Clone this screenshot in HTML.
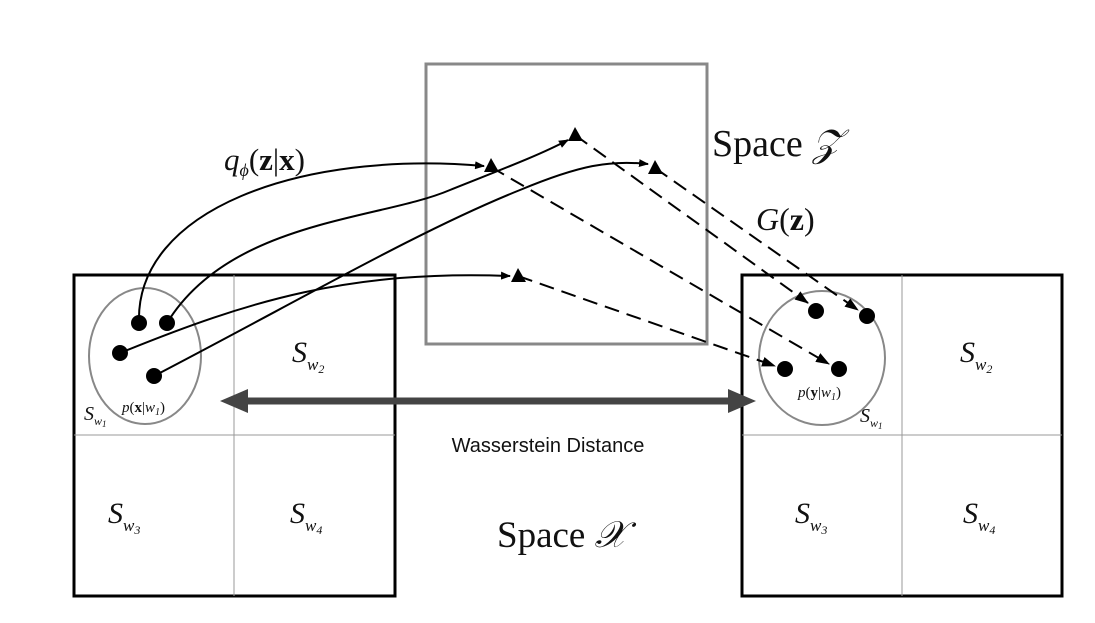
<!DOCTYPE html>
<html><head><meta charset="utf-8"><style>
html,body{margin:0;padding:0;background:#fff;}
svg{display:block;}
.m{font-family:"Liberation Serif",serif;font-style:italic;fill:#111;}
.r{font-family:"Liberation Serif",serif;fill:#111;}
</style></head><body>
<svg width="1095" height="623" viewBox="0 0 1095 623" xmlns="http://www.w3.org/2000/svg">
<defs>
<marker id="ah" markerWidth="10" markerHeight="8" refX="9" refY="4" orient="auto" markerUnits="userSpaceOnUse"><path d="M0,0 L10,4 L0,8 z" fill="#000"/></marker>
<marker id="ah2" markerWidth="14" markerHeight="10" refX="13" refY="5" orient="auto" markerUnits="userSpaceOnUse"><path d="M0,0 L14,5 L0,10 z" fill="#000"/></marker>
</defs>
<!-- Z box -->
<rect x="426" y="64" width="281" height="280" fill="none" stroke="#888" stroke-width="3"/>
<!-- left box -->
<rect x="74" y="275" width="321" height="321" fill="none" stroke="#000" stroke-width="3"/>
<line x1="234" y1="275" x2="234" y2="596" stroke="#999" stroke-width="1"/>
<line x1="74" y1="435" x2="395" y2="435" stroke="#999" stroke-width="1"/>
<!-- right box -->
<rect x="742" y="275" width="320" height="321" fill="none" stroke="#000" stroke-width="3"/>
<line x1="902" y1="275" x2="902" y2="596" stroke="#999" stroke-width="1"/>
<line x1="742" y1="435" x2="1062" y2="435" stroke="#999" stroke-width="1"/>
<!-- circles -->
<ellipse cx="145" cy="356" rx="56" ry="68" fill="none" stroke="#888" stroke-width="2"/>
<ellipse cx="822" cy="358" rx="63" ry="67" fill="none" stroke="#888" stroke-width="2"/>
<!-- solid curves -->
<g fill="none" stroke="#000" stroke-width="2">
<path d="M139,323 C135,210 300,150 484,166" marker-end="url(#ah)"/>
<path d="M167,323 C230,220 380,220 450,190 C500,170 540,155 568,140" marker-end="url(#ah)"/>
<path d="M120,353 C250,300 350,270 510,276" marker-end="url(#ah)"/>
<path d="M154,376 C300,300 420,230 520,190 C580,165 610,160 648,164" marker-end="url(#ah)"/>
</g>
<!-- dashed -->
<g fill="none" stroke="#000" stroke-width="2" stroke-dasharray="15,8">
<line x1="491" y1="167" x2="829" y2="364" marker-end="url(#ah2)"/>
<line x1="575" y1="135" x2="808" y2="303" marker-end="url(#ah2)"/>
<line x1="655" y1="168" x2="858" y2="310" marker-end="url(#ah2)"/>
<line x1="518" y1="276" x2="775" y2="366" marker-end="url(#ah2)"/>
</g>
<!-- triangles -->
<g fill="#000">
<polygon points="491,158 484,172 499,172"/>
<polygon points="575,127 568,141 583,141"/>
<polygon points="655,160 648,174 663,174"/>
<polygon points="518,268 511,282 526,282"/>
</g>
<!-- dots -->
<g fill="#000">
<circle cx="139" cy="323" r="8"/><circle cx="167" cy="323" r="8"/>
<circle cx="120" cy="353" r="8"/><circle cx="154" cy="376" r="8"/>
<circle cx="816" cy="311" r="8"/><circle cx="867" cy="316" r="8"/>
<circle cx="785" cy="369" r="8"/><circle cx="839" cy="369" r="8"/>
</g>
<!-- double arrow -->
<line x1="240" y1="401" x2="735" y2="401" stroke="#444" stroke-width="7"/>
<polygon points="220,401 248,389 248,413" fill="#444"/>
<polygon points="756,401 728,389 728,413" fill="#444"/>
<!-- labels -->
<text x="548" y="452" text-anchor="middle" font-family="Liberation Sans, sans-serif" font-size="20" fill="#111">Wasserstein Distance</text>
<text x="497" y="547" class="r" font-size="37">Space <tspan class="m">𝒳</tspan></text>
<text x="712" y="156" class="r" font-size="38">Space <tspan class="m">𝒵</tspan></text>
<text x="224" y="170" class="m" font-size="31">q<tspan font-size="18" dy="6">ϕ</tspan><tspan class="r" font-style="normal" dy="-6">(<tspan font-weight="bold">z</tspan>|<tspan font-weight="bold">x</tspan>)</tspan></text>
<text x="756" y="230" class="m" font-size="32">G<tspan font-style="normal">(<tspan font-weight="bold">z</tspan>)</tspan></text>
<g class="m">
<text x="292" y="362" font-size="30">S<tspan font-size="17" dy="8">w<tspan font-size="12" dy="3">2</tspan></tspan></text>
<text x="960" y="362" font-size="30">S<tspan font-size="17" dy="8">w<tspan font-size="12" dy="3">2</tspan></tspan></text>
<text x="108" y="523" font-size="30">S<tspan font-size="17" dy="8">w<tspan font-size="12" dy="3">3</tspan></tspan></text>
<text x="290" y="523" font-size="30">S<tspan font-size="17" dy="8">w<tspan font-size="12" dy="3">4</tspan></tspan></text>
<text x="795" y="523" font-size="30">S<tspan font-size="17" dy="8">w<tspan font-size="12" dy="3">3</tspan></tspan></text>
<text x="963" y="523" font-size="30">S<tspan font-size="17" dy="8">w<tspan font-size="12" dy="3">4</tspan></tspan></text>
<text x="84" y="420" font-size="20">S<tspan font-size="12" dy="5">w<tspan font-size="9" dy="2">1</tspan></tspan></text>
<text x="860" y="422" font-size="20">S<tspan font-size="12" dy="5">w<tspan font-size="9" dy="2">1</tspan></tspan></text>
<text x="122" y="412" font-size="15">p<tspan font-style="normal">(<tspan font-weight="bold">x</tspan>|</tspan>w<tspan font-size="10" dy="3">1</tspan><tspan font-style="normal" dy="-3">)</tspan></text>
<text x="798" y="397" font-size="15">p<tspan font-style="normal">(<tspan font-weight="bold">y</tspan>|</tspan>w<tspan font-size="10" dy="3">1</tspan><tspan font-style="normal" dy="-3">)</tspan></text>
</g>
</svg>
</body></html>
